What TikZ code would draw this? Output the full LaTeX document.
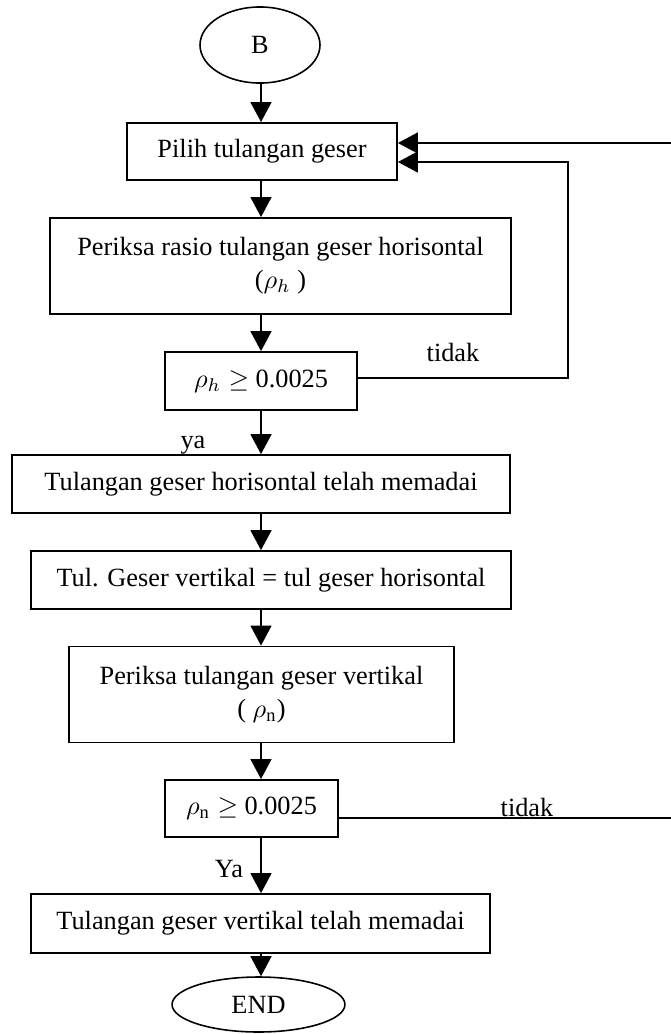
\documentclass[tikz,border=0pt]{standalone}
\usepackage{fontspec}
\setmainfont{Liberation Serif}
\usetikzlibrary{arrows.meta,shapes.geometric}

\tikzset{
 box/.style={draw,rectangle,line width=0.7pt,inner sep=1pt,align=center},
 term/.style={draw,ellipse,line width=0.6pt,inner sep=0pt},
 flow/.style={line width=0.5pt}
}

\begin{document}
\begin{tikzpicture}[x=0.38pt,y=-0.38pt,>={Triangle[length=7.6pt,width=8pt]},
 font=\fontsize{10}{12.5}\selectfont]
 \useasboundingbox (0,0) rectangle (671,1034);

 \node[term,minimum width=45.6pt,minimum height=28.9pt] (B) at (260,45) {B};
 \node[box,minimum width=102.6pt,minimum height=21.7pt] (pilih) at (262,151.5) {Pilih tulangan geser};
 \node[box,minimum width=175.2pt,minimum height=36.5pt] (rasio) at (280.5,266) {Periksa rasio tulangan geser horisontal\\($\rho_h$ )};
 \node[box,minimum width=73pt,minimum height=22pt] (rhoh) at (261,381) {$\rho_h\geq$ 0.0025};
 \node[box,minimum width=189.2pt,minimum height=22pt] (tulh) at (261,484) {Tulangan geser horisontal telah memadai};
 \node[box,minimum width=182.4pt,minimum height=22pt] (tulgsr) at (271,580) {Tul. Geser vertikal = tul geser horisontal};
 \node[box,minimum width=146.3pt,minimum height=36.5pt] (perv) at (261.5,694.5) {Periksa tulangan geser vertikal\\( $\rho_{\mathrm{n}}$)};
 \node[box,minimum width=65.7pt,minimum height=21.7pt] (rhon) at (251.5,808.5) {$\rho_{\mathrm{n}}\geq$ 0.0025};
 \node[box,minimum width=174.4pt,minimum height=22.4pt] (tulv) at (260.5,923.5) {Tulangan geser vertikal telah memadai};
 \node[term,minimum width=65.7pt,minimum height=20.9pt] (end) at (258.5,1004.5) {END};

 \node (ya) at (193,445) {ya};
 \node (Ya) at (229,869) {Ya};
 \node (tidak1) at (453,352) {tidak};
 \node[anchor=base,inner sep=0pt] (tidak2) at (527,816) {tidak};

 % main column
 \coordinate (col) at (261,0);
 \foreach \a/\b in {B/pilih,pilih/rasio,rasio/rhoh,rhoh/tulh,tulh/tulgsr,tulgsr/perv,perv/rhon,rhon/tulv,tulv/end}
  \draw[flow,->] (col |- \a.south) -- (col |- \b.north);

 % back loops
 \coordinate (loopse) at (568,378);
 \coordinate (loopne) at (568,162);
 \coordinate (inR) at (671,143);
 \coordinate (outR) at (671,818);
 \draw[flow,->] (rhoh.east |- loopse) -- (loopse) -- (loopne) -- (loopne -| pilih.east);
 \draw[flow,->] (inR) -- (inR -| pilih.east);
 \draw[flow] (rhon.east |- outR) -- (outR);
\end{tikzpicture}
\end{document}
